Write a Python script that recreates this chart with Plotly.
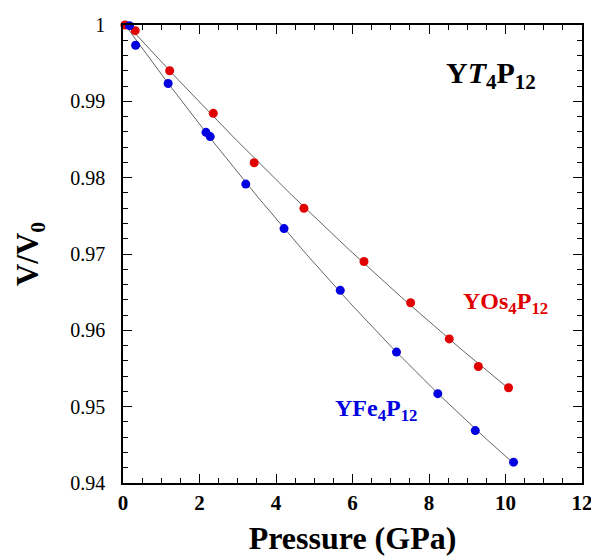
import numpy as np
import plotly.graph_objects as go

# YOs4P12 (red)
os_p = [0.05, 0.32, 1.22, 2.36, 3.43, 4.73, 6.30, 7.52, 8.53, 9.29, 10.08]
os_v = [1.0000, 0.99926, 0.99400, 0.98843, 0.98196, 0.97598, 0.96902, 0.96362, 0.95888, 0.95526, 0.95248]

# YFe4P12 (blue)
fe_p = [0.17, 0.33, 1.18, 2.17, 2.28, 3.21, 4.21, 5.68, 7.15, 8.23, 9.21, 10.21]
fe_v = [0.99991, 0.99735, 0.99234, 0.98594, 0.98538, 0.97916, 0.97333, 0.96524, 0.95715, 0.95170, 0.94687, 0.94273]

x_ticks = [0, 2, 4, 6, 8, 10, 12]
x_ticklabels = ["0", "2", "4", "6", "8", "10", "12"]
y_ticks = [0.94, 0.95, 0.96, 0.97, 0.98, 0.99, 1.0]
y_ticklabels = ["0.94", "0.95", "0.96", "0.97", "0.98", "0.99", "1"]

RED = "rgb(225,0,0)"
BLUE = "rgb(0,0,225)"
FONT = "Liberation Serif"

def fit_curve(p, v):
    c = np.polyfit(p, v, 2)
    xs = np.linspace(0, max(p), 120)
    return xs, np.polyval(c, xs)

fig = go.Figure()
for p, v in [(os_p, os_v), (fe_p, fe_v)]:
    xs, ys = fit_curve(p, v)
    fig.add_trace(go.Scatter(x=xs, y=ys, mode="lines",
                             line=dict(color="rgb(60,60,60)", width=0.8),
                             showlegend=False, hoverinfo="skip", cliponaxis=False))
fig.add_trace(go.Scatter(x=os_p, y=os_v, mode="markers", cliponaxis=False,
                         marker=dict(color=RED, size=9), showlegend=False, name="YOs4P12"))
fig.add_trace(go.Scatter(x=fe_p, y=fe_v, mode="markers", cliponaxis=False,
                         marker=dict(color=BLUE, size=9), showlegend=False, name="YFe4P12"))

axis_common = dict(showline=True, linecolor="black", linewidth=1.5, mirror="allticks",
                   ticks="inside", tickcolor="black", tickwidth=1.2, ticklen=9,
                   showgrid=False, zeroline=False, ticklabeloverflow="allow")

fig.update_xaxes(range=[0, 12], tickvals=x_ticks,
                 ticktext=["<b>%s</b>" % t for t in x_ticklabels],
                 tickfont=dict(family=FONT, size=21, color="black", weight="bold"),
                 minor=dict(dtick=0.5, ticks="inside", ticklen=5, tickcolor="black", tickwidth=1.2),
                 title=dict(text="<b>Pressure (GPa)</b>", font=dict(family=FONT, size=32, color="black"),
                            standoff=13),
                 ticklabelstandoff=0,
                 **axis_common)
fig.update_yaxes(range=[0.94, 1.0], tickvals=y_ticks, ticktext=y_ticklabels,
                 tickfont=dict(family=FONT, size=20, color="black"),
                 minor=dict(dtick=0.002, ticks="inside", ticklen=5, tickcolor="black", tickwidth=1.2),
                 title=dict(text="<b>V/V<sub>0</sub></b>", font=dict(family=FONT, size=31, color="black"),
                            standoff=22),
                 ticklabelstandoff=12,
                 **axis_common)

fig.add_annotation(x=9.62, y=0.9935, xref="x", yref="y", showarrow=False,
                   text="<b>Y<i>T</i><sub>4</sub>P<sub>12</sub></b>",
                   font=dict(family=FONT, size=30, color="black"))
fig.add_annotation(x=9.99, y=0.9636, xref="x", yref="y", showarrow=False,
                   text="<b>YOs<sub>4</sub>P<sub>12</sub></b>",
                   font=dict(family=FONT, size=24, color=RED))
fig.add_annotation(x=6.62, y=0.9495, xref="x", yref="y", showarrow=False,
                   text="<b>YFe<sub>4</sub>P<sub>12</sub></b>",
                   font=dict(family=FONT, size=24, color=BLUE))

fig.update_layout(width=591, height=556,
                  margin=dict(l=123, r=9, t=25, b=73, autoexpand=False),
                  paper_bgcolor="white", plot_bgcolor="white",
                  font=dict(family=FONT, color="black"))

fig.write_html("out.html", config={"displayModeBar": False},
               post_script="document.body.style.margin='0';")
